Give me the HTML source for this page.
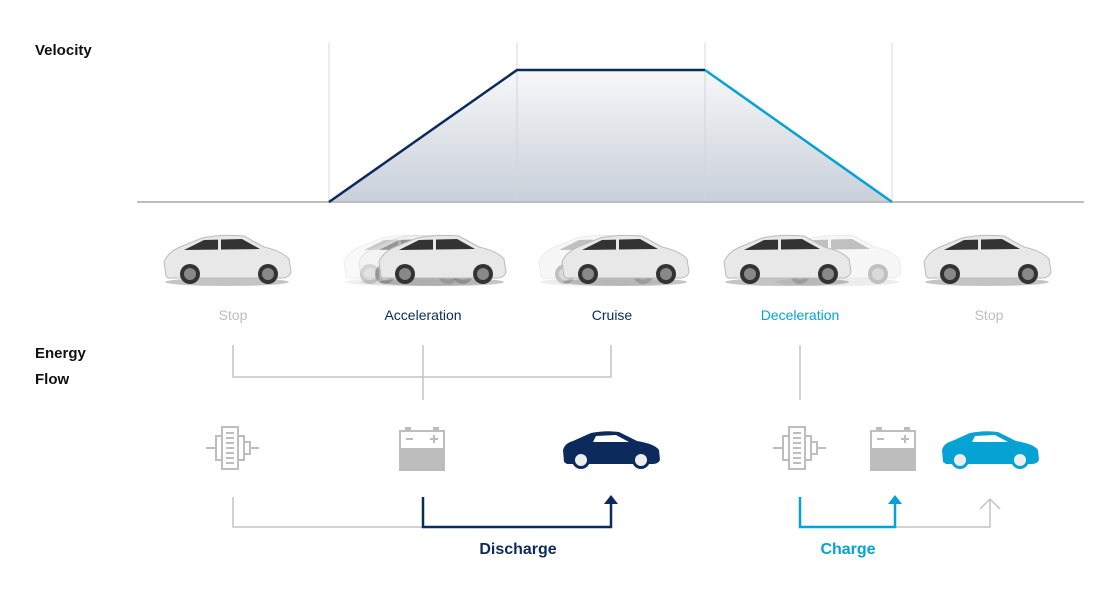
<!DOCTYPE html>
<html><head><meta charset="utf-8"><style>
body{margin:0;background:#fff;}
svg{display:block;font-family:"Liberation Sans",sans-serif;}
</style></head><body>
<svg width="1120" height="600" viewBox="0 0 1120 600" xmlns="http://www.w3.org/2000/svg">
<defs>
<linearGradient id="g" x1="0" y1="0" x2="0" y2="1">
<stop offset="0" stop-color="#f6f7f9"/><stop offset="1" stop-color="#c9d0d9"/></linearGradient>
<symbol id="car" viewBox="0 0 134 56">
<ellipse cx="67" cy="50" rx="62" ry="4" fill="#555" opacity="0.35"/>
<path d="M6,44 L4,30 Q8,20 20,15 L42,6 Q60,2 84,4 L104,15 Q122,19 129,27 L131,40 Q129,46 122,46 L8,46 Z" fill="#e8e8e8" stroke="#bbb" stroke-width="1"/>
<path d="M24,18 L44,8 L82,7 L100,17 Z" fill="#333"/>
<rect x="58" y="7" width="3" height="11" fill="#e8e8e8"/>
<circle cx="30" cy="42" r="10" fill="#333"/><circle cx="30" cy="42" r="6" fill="#888"/>
<circle cx="108" cy="42" r="10" fill="#333"/><circle cx="108" cy="42" r="6" fill="#888"/>
</symbol>
<symbol id="motor" viewBox="0 0 54 44">
<g fill="none" stroke="#bdbdbd" stroke-width="2">
<line x1="0" y1="22" x2="10" y2="22"/><rect x="10" y="10" width="6" height="24"/>
<rect x="16" y="1" width="16" height="42"/>
<line x1="20" y1="7" x2="28" y2="7"/><line x1="20" y1="12" x2="28" y2="12"/><line x1="20" y1="17" x2="28" y2="17"/><line x1="20" y1="22" x2="28" y2="22"/><line x1="20" y1="27" x2="28" y2="27"/><line x1="20" y1="32" x2="28" y2="32"/><line x1="20" y1="37" x2="28" y2="37"/>
<rect x="32" y="10" width="6" height="24"/><rect x="38" y="16" width="6" height="12"/><line x1="44" y1="22" x2="53" y2="22"/>
</g></symbol>
<symbol id="bat" viewBox="0 0 46 44">
<rect x="6" y="0" width="6" height="4" fill="#bdbdbd"/><rect x="34" y="0" width="6" height="4" fill="#bdbdbd"/>
<rect x="1" y="4" width="44" height="39" fill="#fff" stroke="#bdbdbd" stroke-width="2"/>
<rect x="1" y="21" width="44" height="22" fill="#bdbdbd"/>
<line x1="7" y1="12" x2="14" y2="12" stroke="#bdbdbd" stroke-width="2"/>
<line x1="31" y1="12" x2="39" y2="12" stroke="#bdbdbd" stroke-width="2"/><line x1="35" y1="8" x2="35" y2="16" stroke="#bdbdbd" stroke-width="2"/>
</symbol>
<symbol id="icar" viewBox="0 0 100 40">
<path d="M3,32 L2,20 Q4,13 12,11 L30,3 Q45,0 58,2 L76,11 Q94,14 98,20 L99,30 Q97,34 92,34 L6,34 Z"/>
<path d="M35,6 L55,5 L68,12 L32,12 Z" fill="#fff"/>
<circle cx="20" cy="30" r="9"/><circle cx="20" cy="30" r="6" fill="#eee"/>
<circle cx="80" cy="30" r="9"/><circle cx="80" cy="30" r="6" fill="#eee"/>
</symbol>
</defs>

<text x="35" y="55" font-size="15" font-weight="bold" fill="#111">Velocity</text>
<g stroke="#d8d8d8" stroke-width="1">
<line x1="329" y1="43" x2="329" y2="202"/><line x1="517" y1="43" x2="517" y2="202"/>
<line x1="705" y1="43" x2="705" y2="202"/><line x1="892" y1="43" x2="892" y2="202"/>
</g>
<polygon points="329,202 517,70 705,70 892,202" fill="url(#g)"/>
<line x1="517" y1="70" x2="517" y2="202" stroke="#d0d5dc"/><line x1="705" y1="70" x2="705" y2="202" stroke="#d0d5dc"/>
<line x1="137" y1="202" x2="1084" y2="202" stroke="#bdbdbd" stroke-width="2"/>
<polyline points="329,202 517,70 705,70" fill="none" stroke="#0c2a5b" stroke-width="2.5"/>
<polyline points="705,70 892,202" fill="none" stroke="#05a3d3" stroke-width="2.5"/>

<use href="#car" x="160" y="232" width="134" height="56"/>
<use href="#car" x="340" y="232" width="134" height="56" opacity="0.25"/>
<use href="#car" x="355" y="232" width="134" height="56" opacity="0.35"/>
<use href="#car" x="375" y="232" width="134" height="56"/>
<use href="#car" x="535" y="232" width="134" height="56" opacity="0.3"/>
<use href="#car" x="558" y="232" width="134" height="56"/>
<use href="#car" x="770" y="232" width="134" height="56" opacity="0.3"/>
<use href="#car" x="720" y="232" width="134" height="56"/>
<use href="#car" x="920" y="232" width="134" height="56"/>

<g font-size="14" text-anchor="middle">
<text x="233" y="320" fill="#bdbdbd">Stop</text>
<text x="423" y="320" fill="#0c2a5b">Acceleration</text>
<text x="612" y="320" fill="#0c2a5b">Cruise</text>
<text x="800" y="320" fill="#05a3d3">Deceleration</text>
<text x="989" y="320" fill="#bdbdbd">Stop</text>
</g>
<text x="35" y="358" font-size="15" font-weight="bold" fill="#111">Energy</text>
<text x="35" y="384" font-size="15" font-weight="bold" fill="#111">Flow</text>

<g stroke="#c4c4c4" stroke-width="1.5" fill="none">
<polyline points="233,345 233,377 611,377 611,345"/>
<line x1="423" y1="345" x2="423" y2="400"/>
<line x1="800" y1="345" x2="800" y2="400"/>
<polyline points="233,497 233,527 423,527"/>
<polyline points="895,527 990,527 990,500"/>
<polyline points="980,509 990,499 1000,509"/>
</g>
<use href="#motor" x="206" y="426" width="54" height="44"/>
<use href="#bat" x="399" y="427" width="46" height="44"/>
<use href="#icar" x="561" y="430" width="100" height="40" fill="#0c2a5b"/>
<use href="#motor" x="773" y="426" width="54" height="44"/>
<use href="#bat" x="870" y="427" width="46" height="44"/>
<use href="#icar" x="940" y="430" width="100" height="40" fill="#05a3d3"/>

<polyline points="423,497 423,527 611,527 611,503" fill="none" stroke="#0c2a5b" stroke-width="2.5"/>
<polygon points="604,504 618,504 611,495" fill="#0c2a5b"/>
<polyline points="800,497 800,527 895,527 895,503" fill="none" stroke="#05a3d3" stroke-width="2.5"/>
<polygon points="888,504 902,504 895,495" fill="#05a3d3"/>

<text x="518" y="554" font-size="16" font-weight="bold" fill="#0c2a5b" text-anchor="middle">Discharge</text>
<text x="848" y="554" font-size="16" font-weight="bold" fill="#05a3d3" text-anchor="middle">Charge</text>
</svg>
</body></html>
